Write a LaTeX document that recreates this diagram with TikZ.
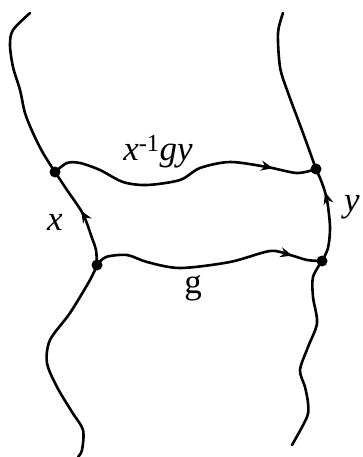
\documentclass[tikz,border=0pt]{standalone}
\usepackage{fontspec}
\setmainfont{Liberation Serif}
\usetikzlibrary{arrows.meta,decorations.markings}
\tikzset{
  string/.style={line width=2.6pt,line cap=round,line join=round},
  midarrow/.style={postaction={decorate,decoration={markings,
      mark=at position #1 with {\arrow{Stealth[length=12pt,width=10pt]}}}}},
  vertex/.style={circle,fill,inner sep=0pt,minimum size=11pt},
  lbl/.style={font=\fontsize{35}{40}\selectfont}
}

\begin{document}
\begin{tikzpicture}[x=1pt,y=-1pt]
  \useasboundingbox (0,0) rectangle (363,457);
  % vertices of the square
  \node[vertex] (A) at (55,172) {};
  \node[vertex] (B) at (97,265) {};
  \node[vertex] (C) at (316,169) {};
  \node[vertex] (D) at (322,261) {};
  % loose ends of the strings
  \coordinate (lt) at (30,13);
  \coordinate (lb) at (78,457);
  \coordinate (rt) at (283,13);
  \coordinate (rb) at (292,445);

  % left string
  \draw[string] plot[smooth] coordinates {(lt) (13,30) (10,45) (13,67)
    (20,90) (25,113) (33,133) (43,153) (A.center)};
  \draw[string,midarrow=0.55] plot[smooth] coordinates {(B.center) (96,250)
    (92,238) (83,214) (67,190) (A.center)};
  \draw[string] plot[smooth] coordinates {(B.center) (90,280) (70,313)
    (50,340) (47,363) (57,387) (72,412) (83,430) (82,450) (lb)};

  % right string
  \draw[string] plot[smooth] coordinates {(rt) (278,33) (280,67) (287,90)
    (303,133) (C.center)};
  \draw[string,midarrow=0.74] plot[smooth] coordinates {(D.center) (328,248)
    (330,227) (327,200) (322,183) (C.center)};
  \draw[string] plot[smooth] coordinates {(D.center) (313,277) (313,297)
    (317,323) (308,347) (300,370) (305,387) (308,403) (307,417) (rb)};

  % the two paths across
  \draw[string,midarrow=0.84] plot[smooth] coordinates {(A.center) (67,163)
    (80,163) (100,170) (123,182) (147,185) (180,180) (200,168) (230,162)
    (267,167) (297,173) (C.center)};
  \draw[string,midarrow=0.87] plot[smooth] coordinates {(B.center) (106,257)
    (127,255) (147,262) (180,268) (230,262) (270,251) (290,255) (307,260)
    (D.center)};

  % labels
  \node[lbl] (top) at (158,152) {\textit{x}\textsuperscript{-1}\textit{gy}};
  \node[lbl] (xl) at (55,222) {\textit{x}};
  \node[lbl] (yl) at (352,207) {\textit{y}};
  \node[lbl] (gl) at (193,288) {g};
\end{tikzpicture}
\end{document}
